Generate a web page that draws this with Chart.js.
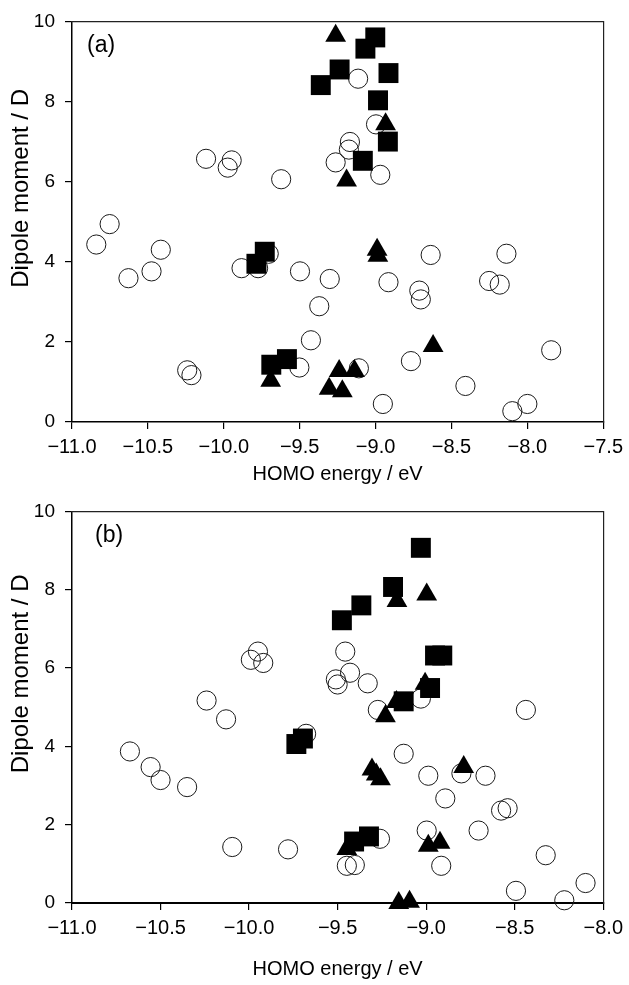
<!DOCTYPE html>
<html>
<head>
<meta charset="utf-8">
<script src="https://cdn.jsdelivr.net/npm/chart.js@4.4.1/dist/chart.umd.min.js"></script>
<style>
  html, body { margin: 0; padding: 0; background: #fff; }
  body { width: 629px; height: 985px; position: relative; overflow: hidden; }
  .wrap { position: absolute; left: 0; width: 629px; }
  #wa { top: 0; height: 490px; }
  #wb { top: 490px; height: 495px; }
  canvas { display: block; }
</style>
</head>
<body>
<div class="wrap" id="wa"><canvas id="ca" width="629" height="490"></canvas></div>
<div class="wrap" id="wb"><canvas id="cb" width="629" height="495"></canvas></div>
<script>
// ---------- Panel (a) data ----------
const circlesA_x = [-10.84, -10.752, -10.628, -10.476, -10.415, -10.241, -10.213, -10.117, -9.948, -9.974, -9.622,
  -9.883, -9.774, -9.704, -9.498, -9.502, -9.426, -9.371, -9.302, -9.263, -9.169, -9.176, -9.115, -8.997, -8.969,
  -9.11, -8.915, -8.952, -8.767, -8.712, -8.702, -8.637, -8.408, -8.252, -8.182, -8.138, -8.099, -8.0, -7.843];
const circlesA_y = [4.43, 4.94, 3.59, 3.76, 4.30, 1.29, 1.17, 6.57, 6.53, 6.35, 6.06,
  3.84, 3.84, 4.20, 3.76, 1.36, 2.04, 2.89, 3.57, 6.48, 6.99, 6.80, 8.57, 7.43, 6.17,
  1.34, 3.49, 0.45, 1.52, 3.28, 3.06, 4.17, 0.90, 3.52, 3.43, 4.20, 0.27, 0.45, 1.79];
const squaresA_x = [-9.002, -9.067, -9.237, -9.361, -8.915, -8.984, -8.919, -9.084, -9.785, -9.73, -9.687, -9.584];
const squaresA_y = [9.60, 9.32, 8.80, 8.41, 8.71, 8.03, 7.00, 6.52, 3.95, 4.25, 1.43, 1.57];
const trianglesA_x = [-9.263, -9.191, -8.934, -8.99, -8.985, -8.621, -9.691, -9.24, -9.139, -9.306, -9.219];
const trianglesA_y = [9.64, 6.03, 7.43, 4.30, 4.15, 1.90, 1.03, 1.27, 1.27, 0.83, 0.77];

// ---------- Panel (b) data ----------
const circlesB_x = [-10.673, -10.556, -10.50, -10.35, -10.24, -10.13, -10.095, -9.99, -9.95, -9.92, -9.78, -9.678,
  -9.51, -9.50, -9.457, -9.43, -9.33, -9.273, -9.03, -9.127, -8.988, -8.801, -8.665, -8.892, -8.577, -8.54,
  -8.997, -8.704, -8.915, -8.325, -8.493, -8.22, -8.10, -8.437, -9.261, -9.448, -9.403];
const circlesB_y = [3.87, 3.47, 3.14, 2.96, 5.17, 4.69, 1.43, 6.21, 6.42, 6.13, 1.37, 4.32,
  5.71, 5.58, 6.42, 5.88, 5.61, 4.93, 5.22, 3.81, 3.25, 3.31, 3.25, 2.67, 2.36, 2.42,
  1.85, 1.85, 0.95, 1.22, 0.31, 0.07, 0.51, 4.93, 1.64, 0.95, 0.97];
const squaresB_x = [-9.03, -9.187, -9.366, -9.476, -8.95, -8.909, -8.978, -9.127, -9.733, -9.696, -9.407, -9.323];
const squaresB_y = [9.07, 8.07, 7.60, 7.22, 6.32, 6.32, 5.49, 5.15, 4.06, 4.20, 1.57, 1.70];
const trianglesB_x = [-8.997, -9.165, -9.006, -9.168, -9.23, -9.306, -9.282, -9.258, -8.788, -8.988, -8.922, -9.448, -9.155, -9.094];
const trianglesB_y = [7.88, 7.71, 5.60, 5.13, 4.77, 3.41, 3.28, 3.16, 3.47, 1.46, 1.54, 1.38, 0.0, 0.03];

// ---------- Tick labels ----------
const xTickLabelsA = ['\u221211.0', '\u221210.5', '\u221210.0', '\u22129.5', '\u22129.0', '\u22128.5', '\u22128.0', '\u22127.5'];
const xTickLabelsB = ['\u221211.0', '\u221210.5', '\u221210.0', '\u22129.5', '\u22129.0', '\u22128.5', '\u22128.0'];
const yTickLabels = ['0', '2', '4', '6', '8', '10'];
const xTitle = 'HOMO energy / eV';
const yTitle = 'Dipole moment / D';

function pts(xs, ys) { return xs.map((x, i) => ({ x: x, y: ys[i] })); }

const panelLabel = {
  id: 'panelLabel',
  afterDraw(chart, args, opts) {
    const ctx = chart.ctx;
    ctx.save();
    ctx.font = '23px "Liberation Sans", Arial, sans-serif';
    ctx.fillStyle = '#000';
    ctx.textBaseline = 'top';
    ctx.textAlign = 'left';
    ctx.fillText(opts.text, chart.chartArea.left + opts.dx, chart.chartArea.top + opts.dy);
    ctx.restore();
  }
};

function makeChart(id, cfg) {
  const tickFont = { family: '"Liberation Sans", Arial, sans-serif', size: 20 };
  const yTickFont = { family: '"Liberation Sans", Arial, sans-serif', size: 19 };
  return new Chart(document.getElementById(id), {
    type: 'scatter',
    data: {
      datasets: [
        { label: 'triangle', data: pts(cfg.tx, cfg.ty), pointStyle: 'triangle', pointRadius: 12,
          backgroundColor: '#000', borderColor: '#000', borderWidth: 0, clip: false },
        { label: 'square', data: pts(cfg.sx, cfg.sy), pointStyle: 'rect', pointRadius: 14.1,
          backgroundColor: '#000', borderColor: '#000', borderWidth: 0, clip: false },
        { label: 'circle', data: pts(cfg.cx, cfg.cy), pointStyle: 'circle', pointRadius: 9.6,
          backgroundColor: 'rgba(255,255,255,0)', borderColor: '#1a1a1a', borderWidth: 1, clip: false }
      ]
    },
    options: {
      responsive: false,
      animation: false,
      events: [],
      layout: { padding: { top: cfg.top, right: 21, left: 0, bottom: 0 } },
      plugins: {
        legend: { display: false },
        tooltip: { enabled: false },
        panelLabel: { text: cfg.label, dx: cfg.ldx, dy: 13 }
      },
      scales: {
        x: {
          type: 'linear', position: 'bottom', min: -11, max: cfg.xmax,
          afterFit: s => { s.height = cfg.xh; },
          ticks: { stepSize: 0.5, color: '#000', font: tickFont, padding: 6, maxRotation: 0,
                   callback: (v, i) => cfg.xlabels[i] },
          grid: { display: true, drawOnChartArea: false, drawTicks: true, tickLength: 7, color: '#000', lineWidth: 1.2 },
          border: { display: true, color: '#000', width: cfg.xbw },
          title: { display: true, text: xTitle, color: '#000',
                   font: { family: '"Liberation Sans", Arial, sans-serif', size: 20 },
                   padding: { top: 0, bottom: cfg.xtp } }
        },
        y: {
          type: 'linear', position: 'left', min: 0, max: 10,
          afterFit: s => { s.width = 72; },
          ticks: { stepSize: 2, color: '#000', font: yTickFont, padding: 10,
                   callback: (v, i) => yTickLabels[i] },
          grid: { display: true, drawOnChartArea: false, drawTicks: true, tickLength: 7, color: '#000', lineWidth: 1.2 },
          border: { display: true, color: '#000', width: 1.5 },
          title: { display: true, text: cfg.ypad + yTitle, color: '#000',
                   font: { family: '"Liberation Sans", Arial, sans-serif', size: 24 },
                   padding: { top: 7, bottom: 0 } }
        },
        x2: {
          type: 'linear', position: 'top', min: -11, max: cfg.xmax,
          afterFit: s => { s.height = 0; },
          ticks: { display: false },
          grid: { display: false },
          border: { display: true, color: '#222', width: 1.2 }
        },
        y2: {
          type: 'linear', position: 'right', min: 0, max: 10,
          afterFit: s => { s.width = 0; },
          ticks: { display: false },
          grid: { display: false },
          border: { display: true, color: '#222', width: 1.2 }
        }
      }
    },
    plugins: [panelLabel]
  });
}

makeChart('ca', {
  cx: circlesA_x, cy: circlesA_y, sx: squaresA_x, sy: squaresA_y, tx: trianglesA_x, ty: trianglesA_y,
  xmax: -7.5, xlabels: xTickLabelsA, top: 20, xh: 68, xtp: 4, xbw: 1.5, label: '(a)', ldx: 15,
  ypad: '          '
});
makeChart('cb', {
  cx: circlesB_x, cy: circlesB_y, sx: squaresB_x, sy: squaresB_y, tx: trianglesB_x, ty: trianglesB_y,
  xmax: -8.0, xlabels: xTickLabelsB, top: 21, xh: 82, xtp: 4, xbw: 2, label: '(b)', ldx: 23,
  ypad: '          '
});
</script>
</body>
</html>
